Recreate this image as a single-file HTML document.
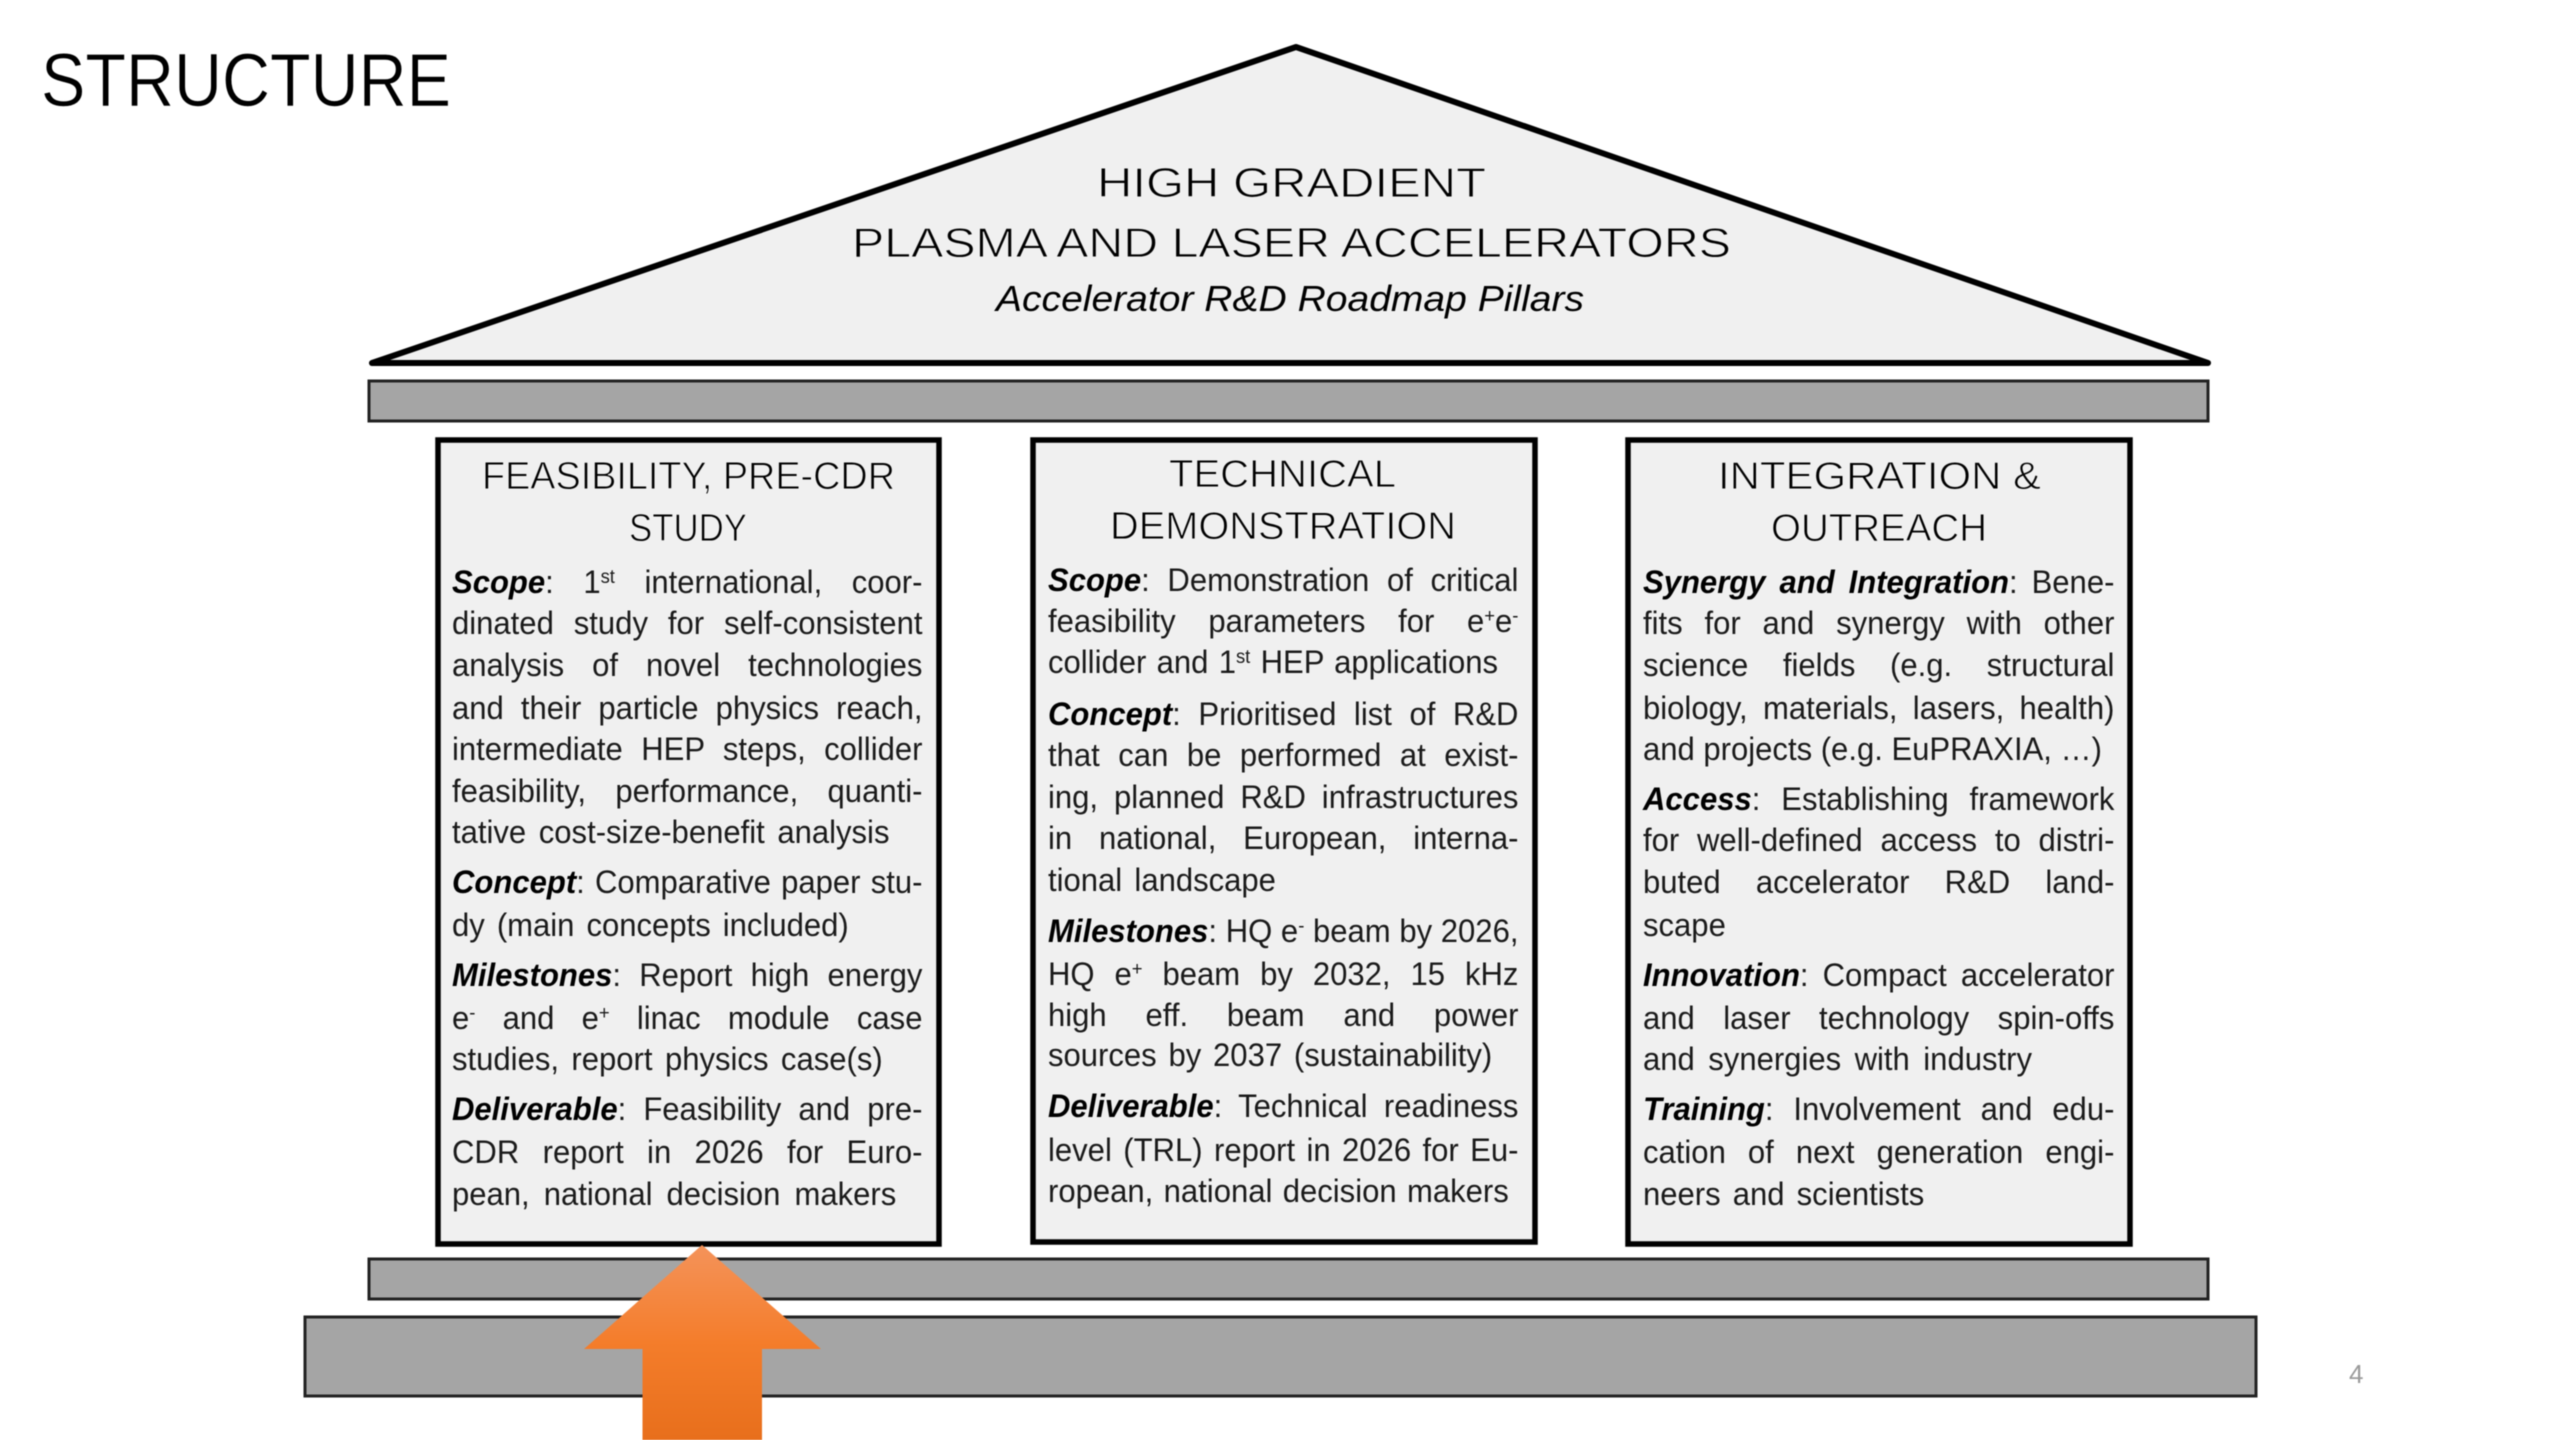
<!DOCTYPE html>
<html lang="en">
<head>
<meta charset="utf-8">
<title>Structure</title>
<style>
html,body{margin:0;padding:0;background:#fff;}
#page{position:relative;width:2560px;height:1440px;overflow:hidden;background:#fff;filter:blur(.5px);}
svg{position:absolute;left:0;top:0;}
.col{position:absolute;left:0;top:0;width:0;height:0;}
.l{position:absolute;height:40px;margin-top:0;font:32px/40px "Liberation Sans",sans-serif;color:#1a1a1a;white-space:nowrap;text-align:justify;text-align-last:justify;transform:scaleX(.97);transform-origin:0 0;}
.l b{font-style:italic;color:#000;}
.l sup{font-size:19px;line-height:0;vertical-align:10px;}
</style>
</head>
<body>
<div id="page">
<svg width="2560" height="1440" viewBox="0 0 2560 1440" xmlns="http://www.w3.org/2000/svg">
  <defs>
    <linearGradient id="g" x1="0" y1="0" x2="0" y2="1">
      <stop offset="0" stop-color="#f4935a"/>
      <stop offset=".5" stop-color="#f47d2b"/>
      <stop offset="1" stop-color="#e86f1c"/>
    </linearGradient>
  </defs>
  <text x="41" y="106" font-family="Liberation Sans, sans-serif" font-size="75" textLength="410" lengthAdjust="spacingAndGlyphs" fill="#000" stroke="#fff" stroke-width=".6">STRUCTURE</text>

  <polygon points="1296,47 372,363 2208,363" fill="#f0f0f0" stroke="#000" stroke-width="6" stroke-linejoin="round"/>
  <rect x="369" y="381" width="1839" height="40" fill="#a5a5a5" stroke="#222" stroke-width="3"/>

  <rect x="438" y="440" width="501" height="804" fill="#f0f0f0" stroke="#000" stroke-width="5.5"/>
  <rect x="1033" y="440" width="502" height="802" fill="#f0f0f0" stroke="#000" stroke-width="5.5"/>
  <rect x="1628" y="440" width="502" height="804" fill="#f0f0f0" stroke="#000" stroke-width="5.5"/>

  <rect x="369" y="1259" width="1839" height="40" fill="#a5a5a5" stroke="#222" stroke-width="3"/>
  <rect x="305" y="1317" width="1951" height="79" fill="#a5a5a5" stroke="#222" stroke-width="3"/>

  <polygon points="702,1245 821,1349 762,1349 762,1440 642.5,1440 642.5,1349 584,1349" fill="url(#g)"/>

  <g font-family="Liberation Sans, sans-serif" fill="#000" stroke="#f0f0f0" stroke-width=".9">
    <text x="1097" y="197" font-size="42" textLength="389" lengthAdjust="spacingAndGlyphs">HIGH GRADIENT</text>
    <text x="852" y="257" font-size="42" textLength="879" lengthAdjust="spacingAndGlyphs">PLASMA AND LASER ACCELERATORS</text>
    <text x="482" y="489" font-size="39" textLength="413" lengthAdjust="spacingAndGlyphs">FEASIBILITY, PRE-CDR</text>
    <text x="629" y="541" font-size="39" textLength="118" lengthAdjust="spacingAndGlyphs">STUDY</text>
    <text x="1169" y="487" font-size="39" textLength="227" lengthAdjust="spacingAndGlyphs">TECHNICAL</text>
    <text x="1110" y="539" font-size="39" textLength="346" lengthAdjust="spacingAndGlyphs">DEMONSTRATION</text>
    <text x="1718" y="489" font-size="39" textLength="323" lengthAdjust="spacingAndGlyphs">INTEGRATION &amp;</text>
    <text x="1771" y="541" font-size="39" textLength="216" lengthAdjust="spacingAndGlyphs">OUTREACH</text>
  </g>
  <text x="996" y="311" font-family="Liberation Sans, sans-serif" font-style="italic" font-size="36" textLength="588" lengthAdjust="spacingAndGlyphs" fill="#000">Accelerator R&amp;D Roadmap Pillars</text>
  <text x="2349" y="1383" font-family="Liberation Sans, sans-serif" font-size="26" fill="#9a9a9a">4</text>
</svg>

<div class="col">
<div class="l" style="left:452px;top:562px;width:485px"><b>Scope</b>: 1<sup>st</sup> international, coor-</div>
<div class="l" style="left:452px;top:603px;width:485px">dinated study for self-consistent</div>
<div class="l" style="left:452px;top:645px;width:485px">analysis of novel technologies</div>
<div class="l" style="left:452px;top:688px;width:485px">and their particle physics reach,</div>
<div class="l" style="left:452px;top:729px;width:485px">intermediate HEP steps, collider</div>
<div class="l" style="left:452px;top:771px;width:485px">feasibility, performance, quanti-</div>
<div class="l" style="left:452px;top:812px;width:451px">tative cost-size-benefit analysis</div>
<div class="l" style="left:452px;top:862px;width:485px"><b>Concept</b>: Comparative paper stu-</div>
<div class="l" style="left:452px;top:905px;width:409px">dy (main concepts included)</div>
<div class="l" style="left:452px;top:955px;width:485px"><b>Milestones</b>: Report high energy</div>
<div class="l" style="left:452px;top:998px;width:485px">e<sup>-</sup> and e<sup>+</sup> linac module case</div>
<div class="l" style="left:452px;top:1039px;width:444px">studies, report physics case(s)</div>
<div class="l" style="left:452px;top:1089px;width:485px"><b>Deliverable</b>: Feasibility and pre-</div>
<div class="l" style="left:452px;top:1132px;width:485px">CDR report in 2026 for Euro-</div>
<div class="l" style="left:452px;top:1174px;width:458px">pean, national decision makers</div>
</div>

<div class="col">
<div class="l" style="left:1048px;top:560px;width:485px"><b>Scope</b>: Demonstration of critical</div>
<div class="l" style="left:1048px;top:601px;width:485px">feasibility parameters for e<sup>+</sup>e<sup>-</sup></div>
<div class="l" style="left:1048px;top:642px;width:464px">collider and 1<sup>st</sup> HEP applications</div>
<div class="l" style="left:1048px;top:694px;width:485px"><b>Concept</b>: Prioritised list of R&amp;D</div>
<div class="l" style="left:1048px;top:735px;width:485px">that can be performed at exist-</div>
<div class="l" style="left:1048px;top:777px;width:485px">ing, planned R&amp;D infrastructures</div>
<div class="l" style="left:1048px;top:818px;width:485px">in national, European, interna-</div>
<div class="l" style="left:1048px;top:860px;width:235px">tional landscape</div>
<div class="l" style="left:1048px;top:911px;width:485px"><b>Milestones</b>: HQ e<sup>-</sup> beam by 2026,</div>
<div class="l" style="left:1048px;top:954px;width:485px">HQ e<sup>+</sup> beam by 2032, 15 kHz</div>
<div class="l" style="left:1048px;top:995px;width:485px">high eff. beam and power</div>
<div class="l" style="left:1048px;top:1035px;width:458px">sources by 2037 (sustainability)</div>
<div class="l" style="left:1048px;top:1086px;width:485px"><b>Deliverable</b>: Technical readiness</div>
<div class="l" style="left:1048px;top:1130px;width:485px">level (TRL) report in 2026 for Eu-</div>
<div class="l" style="left:1048px;top:1171px;width:475px">ropean, national decision makers</div>
</div>

<div class="col">
<div class="l" style="left:1643px;top:562px;width:486px"><b>Synergy and Integration</b>: Bene-</div>
<div class="l" style="left:1643px;top:603px;width:486px">fits for and synergy with other</div>
<div class="l" style="left:1643px;top:645px;width:486px">science fields (e.g. structural</div>
<div class="l" style="left:1643px;top:688px;width:486px">biology, materials, lasers, health)</div>
<div class="l" style="left:1643px;top:729px;width:461px">and projects (e.g. EuPRAXIA, …)</div>
<div class="l" style="left:1643px;top:779px;width:486px"><b>Access</b>: Establishing framework</div>
<div class="l" style="left:1643px;top:820px;width:486px">for well-defined access to distri-</div>
<div class="l" style="left:1643px;top:862px;width:486px">buted accelerator R&amp;D land-</div>
<div class="l" style="left:1643px;top:905px;width:90px;text-align:left;text-align-last:left">scape</div>
<div class="l" style="left:1643px;top:955px;width:486px"><b>Innovation</b>: Compact accelerator</div>
<div class="l" style="left:1643px;top:998px;width:486px">and laser technology spin-offs</div>
<div class="l" style="left:1643px;top:1039px;width:401px">and synergies with industry</div>
<div class="l" style="left:1643px;top:1089px;width:486px"><b>Training</b>: Involvement and edu-</div>
<div class="l" style="left:1643px;top:1132px;width:486px">cation of next generation engi-</div>
<div class="l" style="left:1643px;top:1174px;width:290px">neers and scientists</div>
</div>
</div>
</body>
</html>
